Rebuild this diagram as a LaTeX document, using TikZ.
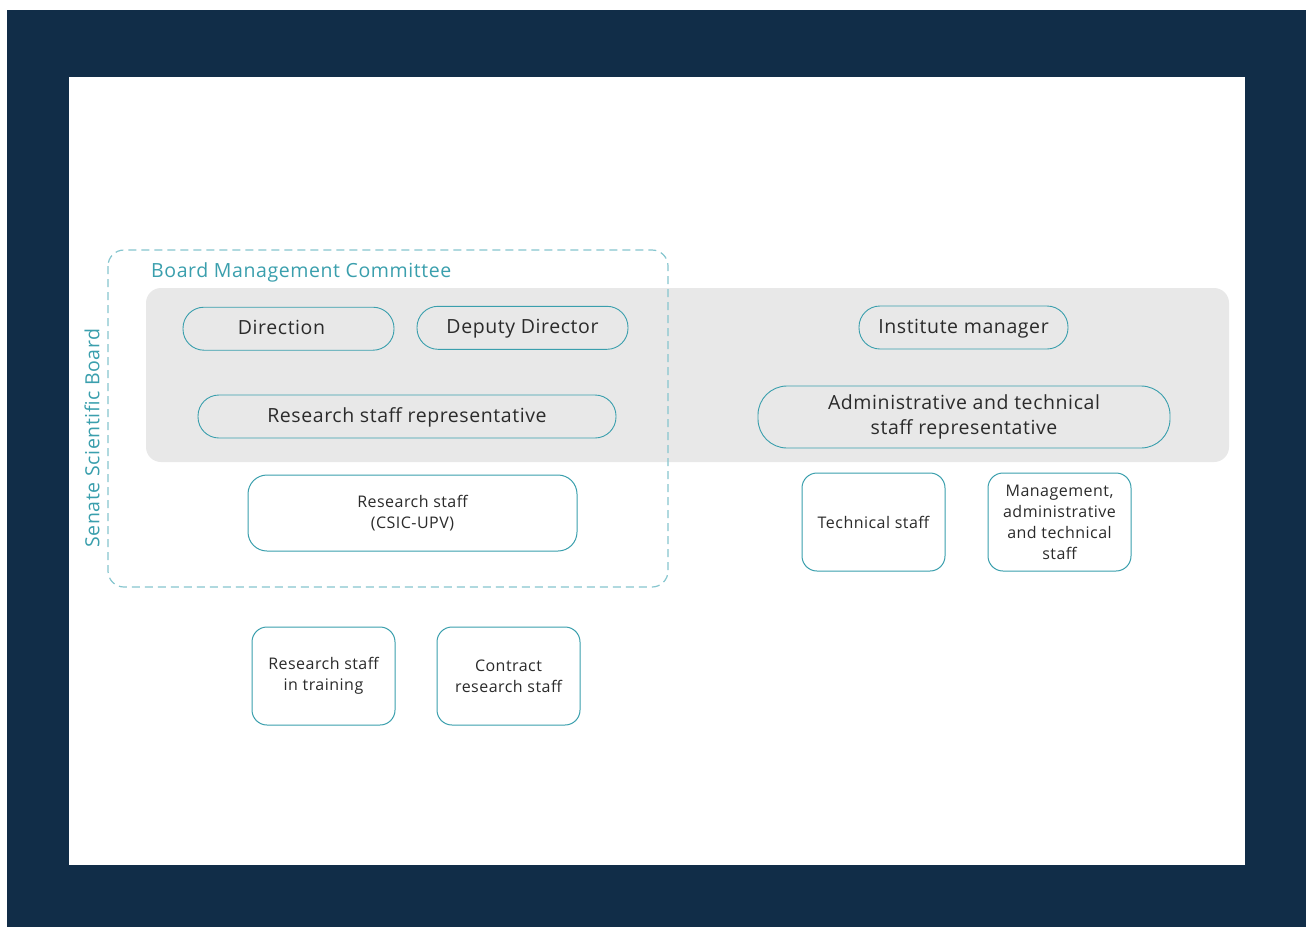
\documentclass[tikz,border=0pt]{standalone}
\usepackage{fontspec}
\setmainfont{Open Sans}[LetterSpace=3]
\definecolor{navy}{HTML}{112D48}
\definecolor{teal}{HTML}{3A9FAD}
\definecolor{lteal}{HTML}{86C6CF}
\definecolor{band}{HTML}{E8E8E8}
\definecolor{ink}{HTML}{2B2B2B}
\tikzset{
  pill/.style={draw=teal, line width=0.9pt, fill=band, inner sep=0pt, outer sep=0pt, text=ink, font=\fontsize{19.5}{25}\selectfont, align=center},
  onepill/.style={pill, text height=15pt, text depth=3.5pt},
  box/.style={draw=teal, line width=1pt, fill=white, inner sep=0pt, outer sep=0pt, text=ink, font=\fontsize{16}{21}\selectfont, align=center, rounded corners=15pt},
  lbl/.style={text=teal, font=\fontsize{19.5}{22}\selectfont, inner sep=0pt},
}
\begin{document}
\begin{tikzpicture}[x=1pt,y=-1pt]
\useasboundingbox (0,0) rectangle (1309,927);
\fill[navy] (7,10) rectangle (1306,927);
\fill[white] (69,77) rectangle (1245,865);
% gray band
\fill[band, rounded corners=15pt] (146,288) rectangle (1229,462);
% dashed committee frame
\draw[lteal, line width=1.2pt, dash pattern=on 8pt off 5pt, rounded corners=16pt] (108,250) rectangle (668,587);
\node[lbl, anchor=base west] (bmc) at (151,277) {Board Management Committee};
\node[lbl, rotate=90] (ssb) at (92,438) {Senate Scientific Board};
% pills
\node[onepill, minimum width=211pt, minimum height=43pt, rounded corners=21pt] (dir) at (288.5,328.7) {Direction\hspace*{14pt}};
\node[onepill, minimum width=211pt, minimum height=43pt, rounded corners=21pt] (dep) at (522.5,327.8) {Deputy Director};
\node[onepill, minimum width=418pt, minimum height=43pt, rounded corners=21pt] (rsr) at (407,416.5) {Research staff representative};
\node[onepill, minimum width=209pt, minimum height=43pt, rounded corners=21pt] (inst) at (963.5,327.5) {Institute manager};
\node[pill, minimum width=412pt, minimum height=62pt, rounded corners=29pt] (adm) at (964,417) {Administrative and technical\\staff representative};
% boxes
\node[box, minimum width=329pt, minimum height=76pt, rounded corners=19pt] (rs) at (412.5,513) {Research staff\\(CSIC-UPV)};
\node[box, minimum width=143pt, minimum height=98pt] (tech) at (873.5,522) {Technical staff};
\node[box, minimum width=143pt, minimum height=98pt] (mgmt) at (1059.5,522) {Management,\\administrative\\and technical\\staff};
\node[box, minimum width=143pt, minimum height=98pt] (rsit) at (323.5,676) {Research staff\\in training};
\node[box, minimum width=143pt, minimum height=98pt] (crs) at (508.5,676) {Contract\\research staff};
\end{tikzpicture}
\end{document}
